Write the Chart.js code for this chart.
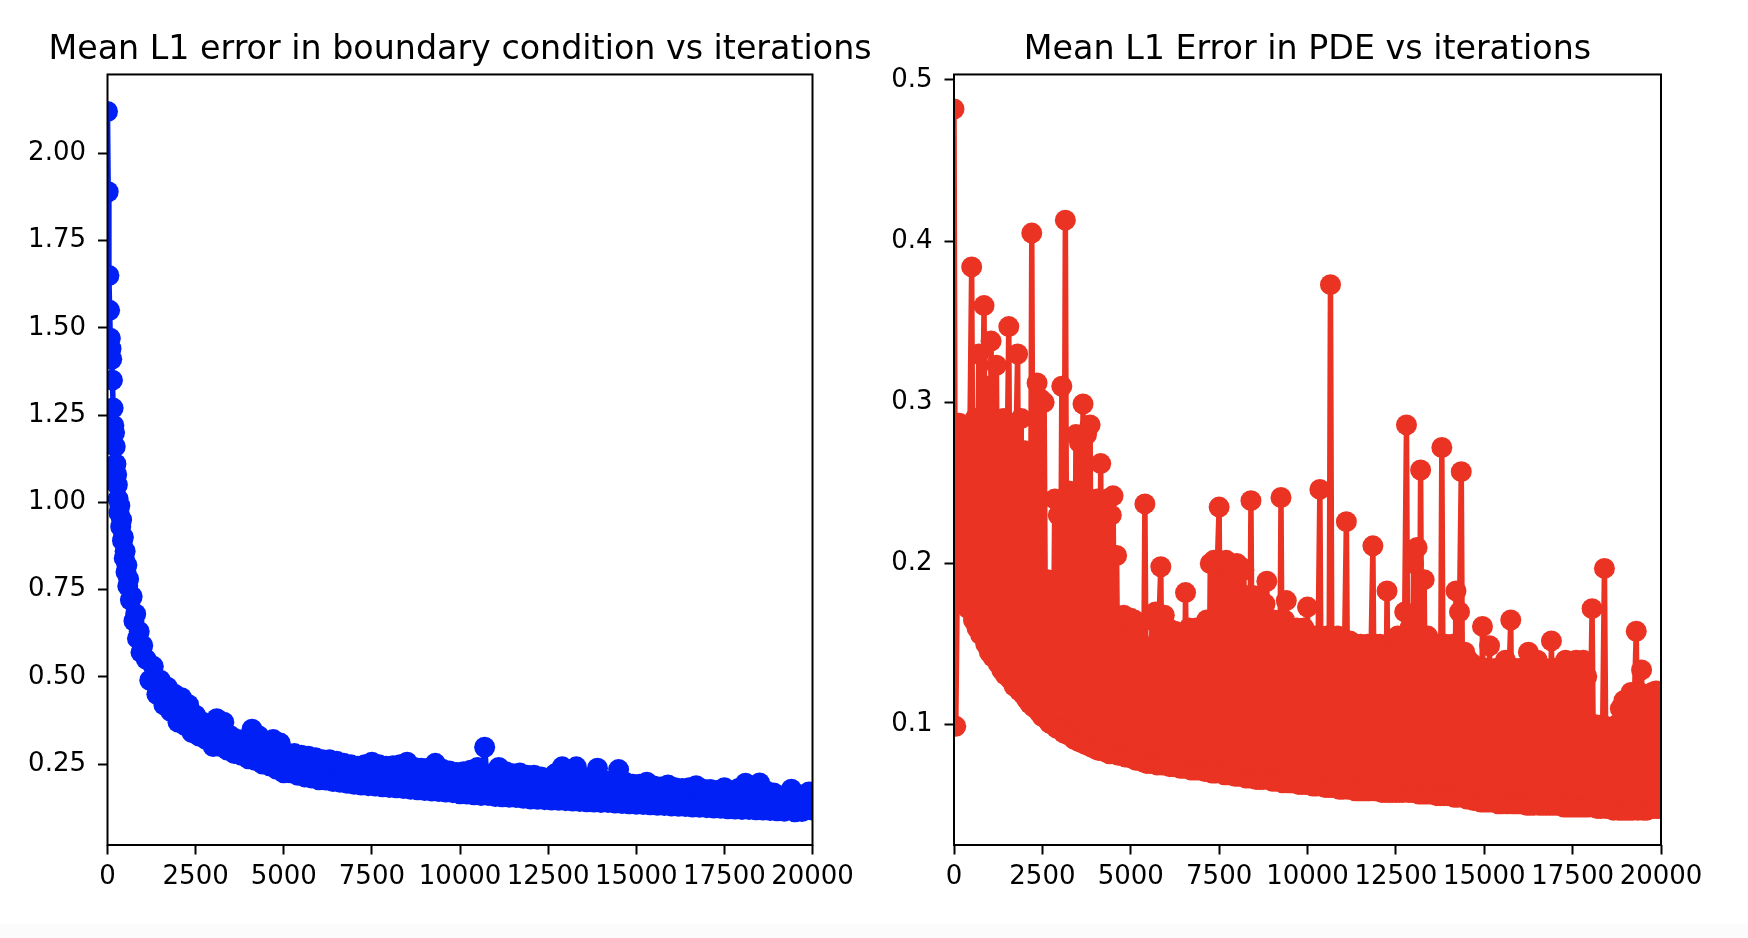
<!DOCTYPE html>
<html>
<head>
<meta charset="utf-8">
<title>Mean L1 error vs iterations</title>
<script src="https://cdn.jsdelivr.net/npm/chart.js@4/dist/chart.umd.min.js"></script>
<style>
  html, body { margin: 0; padding: 0; background: #fff; overflow: hidden; }
  body { width: 1748px; height: 938px; position: relative; }
  canvas { position: absolute; top: 0; }
  #bcChart { left: 23px; }
  #pdeChart { left: 874px; }
  .footer-strip { position: absolute; left: 0; top: 924px; width: 1748px; height: 14px; background: #fbfbfb; }
</style>
</head>
<body>
<div class="footer-strip"></div>
<canvas id="bcChart" width="874" height="938"></canvas>
<canvas id="pdeChart" width="874" height="938"></canvas>
<script>
const FONT_FAMILY = "'DejaVu Sans', sans-serif";
const BLUE = "#0020f5";
const RED = "#ea3323";

const xTicks = [0, 2500, 5000, 7500, 10000, 12500, 15000, 17500, 20000];
const bcTicks = [0.25, 0.5, 0.75, 1.0, 1.25, 1.5, 1.75, 2.0];
const pdeTicks = [0.1, 0.2, 0.3, 0.4, 0.5];

const bcIterations = [
  0, 20, 40, 60, 80, 100, 120, 140, 160, 180, 200, 220, 240, 260, 280, 300,
  325, 350, 375, 400, 425, 450, 475, 500, 525, 550, 575, 600,
  650, 700, 750, 800, 850, 900, 950, 1000,
  1100, 1200, 1300, 1400, 1500, 1600, 1700, 1800, 1900, 2000,
  2100, 2200, 2300, 2400, 2500, 2600, 2700, 2800, 2900, 3000,
  3100, 3200, 3300, 3400, 3500, 3600, 3700, 3800, 3900, 4000,
  4100, 4200, 4300, 4400, 4500, 4600, 4700, 4800, 4900, 5000,
  5100, 5200, 5300, 5400, 5500, 5600, 5700, 5800, 5900, 6000,
  6100, 6200, 6300, 6400, 6500, 6600, 6700, 6800, 6900, 7000,
  7100, 7200, 7300, 7400, 7500, 7600, 7700, 7800, 7900, 8000,
  8100, 8200, 8300, 8400, 8500, 8600, 8700, 8800, 8900, 9000,
  9100, 9200, 9300, 9400, 9500, 9600, 9700, 9800, 9900, 10000,
  10100, 10200, 10300, 10400, 10500, 10600, 10700, 10800, 10900, 11000,
  11100, 11200, 11300, 11400, 11500, 11600, 11700, 11800, 11900, 12000,
  12100, 12200, 12300, 12400, 12500, 12600, 12700, 12800, 12900, 13000,
  13100, 13200, 13300, 13400, 13500, 13600, 13700, 13800, 13900, 14000,
  14100, 14200, 14300, 14400, 14500, 14600, 14700, 14800, 14900, 15000,
  15100, 15200, 15300, 15400, 15500, 15600, 15700, 15800, 15900, 16000,
  16100, 16200, 16300, 16400, 16500, 16600, 16700, 16800, 16900, 17000,
  17100, 17200, 17300, 17400, 17500, 17600, 17700, 17800, 17900, 18000,
  18100, 18200, 18300, 18400, 18500, 18600, 18700, 18800, 18900, 19000,
  19100, 19200, 19300, 19400, 19500, 19600, 19700, 19800, 19900, 20000,
];

const bcError = [
  2.12, 1.89, 1.65, 1.55, 1.47, 1.44, 1.41, 1.35, 1.27, 1.22, 1.20, 1.16, 1.11, 1.08, 1.05, 1.01,
  0.97, 0.99, 0.93, 0.95, 0.89, 0.90, 0.84, 0.86, 0.80, 0.82, 0.76, 0.78,
  0.72, 0.73, 0.66, 0.68, 0.61, 0.63, 0.57, 0.59,
  0.55, 0.49, 0.53, 0.45, 0.49, 0.42, 0.47, 0.40, 0.45, 0.37,
  0.44, 0.36, 0.42, 0.34, 0.39, 0.33, 0.37, 0.32, 0.36, 0.30,
  0.38, 0.30, 0.37, 0.29, 0.33, 0.28, 0.32, 0.275, 0.31, 0.265,
  0.35, 0.26, 0.33, 0.25, 0.30, 0.245, 0.32, 0.235, 0.31, 0.225,
  0.28, 0.225, 0.28, 0.218, 0.275, 0.213, 0.272, 0.21, 0.268, 0.205,
  0.262, 0.204, 0.262, 0.20, 0.258, 0.198, 0.252, 0.195, 0.248, 0.192,
  0.244, 0.19, 0.248, 0.188, 0.255, 0.187, 0.248, 0.185, 0.244, 0.183,
  0.245, 0.182, 0.248, 0.18, 0.255, 0.178, 0.24, 0.176, 0.238, 0.174,
  0.238, 0.173, 0.252, 0.171, 0.235, 0.17, 0.23, 0.168, 0.226, 0.165,
  0.228, 0.164, 0.232, 0.162, 0.24, 0.16, 0.298, 0.16, 0.222, 0.157,
  0.24, 0.156, 0.228, 0.155, 0.222, 0.154, 0.224, 0.152, 0.218, 0.15,
  0.218, 0.149, 0.213, 0.148, 0.21, 0.147, 0.222, 0.146, 0.242, 0.145,
  0.212, 0.144, 0.242, 0.143, 0.212, 0.142, 0.207, 0.141, 0.238, 0.14,
  0.202, 0.14, 0.2, 0.138, 0.234, 0.137, 0.197, 0.136, 0.192, 0.135,
  0.192, 0.134, 0.198, 0.133, 0.187, 0.132, 0.184, 0.131, 0.19, 0.13,
  0.182, 0.129, 0.18, 0.128, 0.182, 0.127, 0.188, 0.126, 0.178, 0.125,
  0.177, 0.124, 0.174, 0.123, 0.182, 0.122, 0.172, 0.121, 0.18, 0.12,
  0.195, 0.12, 0.185, 0.119, 0.196, 0.118, 0.172, 0.117, 0.167, 0.116,
  0.158, 0.115, 0.162, 0.178, 0.113, 0.162, 0.114, 0.16, 0.17, 0.118,
];

// PDE residual was logged every 50 iterations
const PDE_LOG_EVERY = 50;
const pdeError = [
  0.482, 0.099, 0.20, 0.287, 0.185, 0.27, 0.178, 0.26, 0.172, 0.28, 0.384, 0.165, 0.29, 0.160, 0.33, 0.156, 0.27, 0.360, 0.150, 0.31,
  0.145, 0.338, 0.142, 0.28, 0.323, 0.138, 0.27, 0.134, 0.29, 0.131, 0.26, 0.347, 0.128, 0.28, 0.124, 0.27, 0.330, 0.121, 0.29, 0.119,
  0.27, 0.116, 0.25, 0.113, 0.405, 0.111, 0.26, 0.312, 0.108, 0.302, 0.105, 0.30, 0.104, 0.19, 0.101, 0.185, 0.100, 0.24, 0.098, 0.23,
  0.097, 0.31, 0.095, 0.413, 0.094, 0.245, 0.093, 0.24, 0.091, 0.28, 0.090, 0.275, 0.089, 0.299, 0.088, 0.28, 0.087, 0.286, 0.086, 0.235,
  0.085, 0.24, 0.084, 0.262, 0.084, 0.235, 0.083, 0.24, 0.082, 0.23, 0.242, 0.082, 0.205, 0.081, 0.165, 0.081, 0.168, 0.080, 0.165, 0.080,
  0.166, 0.079, 0.165, 0.078, 0.155, 0.078, 0.15, 0.077, 0.237, 0.076, 0.145, 0.076, 0.165, 0.076, 0.17, 0.075, 0.165, 0.198, 0.075, 0.168,
  0.075, 0.16, 0.074, 0.155, 0.074, 0.158, 0.074, 0.155, 0.073, 0.15, 0.073, 0.182, 0.073, 0.16, 0.072, 0.155, 0.072, 0.16, 0.072, 0.155,
  0.072, 0.16, 0.071, 0.165, 0.071, 0.20, 0.070, 0.202, 0.070, 0.20, 0.235, 0.070, 0.20, 0.069, 0.202, 0.069, 0.20, 0.069, 0.198, 0.068,
  0.20, 0.068, 0.198, 0.068, 0.196, 0.067, 0.18, 0.067, 0.239, 0.067, 0.18, 0.066, 0.175, 0.066, 0.17, 0.066, 0.175, 0.189, 0.066, 0.165,
  0.065, 0.165, 0.065, 0.162, 0.065, 0.241, 0.064, 0.165, 0.177, 0.064, 0.16, 0.064, 0.158, 0.064, 0.16, 0.063, 0.155, 0.063, 0.16, 0.063,
  0.173, 0.063, 0.15, 0.062, 0.155, 0.062, 0.15, 0.246, 0.062, 0.15, 0.061, 0.155, 0.061, 0.373, 0.061, 0.15, 0.061, 0.155, 0.060, 0.15,
  0.060, 0.15, 0.226, 0.060, 0.152, 0.060, 0.15, 0.059, 0.148, 0.059, 0.15, 0.059, 0.145, 0.059, 0.15, 0.059, 0.148, 0.211, 0.059, 0.15,
  0.059, 0.15, 0.058, 0.148, 0.058, 0.183, 0.058, 0.15, 0.058, 0.145, 0.058, 0.155, 0.058, 0.15, 0.058, 0.17, 0.286, 0.058, 0.16, 0.058,
  0.20, 0.058, 0.21, 0.057, 0.258, 0.057, 0.19, 0.057, 0.155, 0.057, 0.15, 0.057, 0.148, 0.056, 0.15, 0.056, 0.272, 0.056, 0.15, 0.056,
  0.148, 0.056, 0.15, 0.055, 0.183, 0.055, 0.17, 0.257, 0.055, 0.145, 0.054, 0.14, 0.054, 0.138, 0.053, 0.135, 0.053, 0.132, 0.052, 0.161,
  0.052, 0.135, 0.052, 0.149, 0.052, 0.13, 0.052, 0.135, 0.051, 0.13, 0.051, 0.135, 0.14, 0.051, 0.13, 0.165, 0.051, 0.135, 0.051, 0.13,
  0.051, 0.135, 0.051, 0.13, 0.050, 0.145, 0.050, 0.132, 0.050, 0.135, 0.14, 0.050, 0.13, 0.050, 0.135, 0.050, 0.13, 0.050, 0.152, 0.050,
  0.135, 0.050, 0.13, 0.050, 0.135, 0.049, 0.14, 0.049, 0.135, 0.049, 0.13, 0.049, 0.14, 0.049, 0.135, 0.049, 0.14, 0.049, 0.13, 0.049,
  0.10, 0.172, 0.049, 0.10, 0.048, 0.098, 0.048, 0.10, 0.197, 0.048, 0.095, 0.048, 0.098, 0.047, 0.095, 0.10, 0.047, 0.11, 0.047, 0.115,
  0.047, 0.115, 0.047, 0.12, 0.047, 0.118, 0.158, 0.047, 0.12, 0.134, 0.047, 0.115, 0.047, 0.118, 0.048, 0.12, 0.048, 0.121, 0.048, 0.115,
  0.12,
];
const pdeIterations = pdeError.map((_, i) => i * PDE_LOG_EVERY);

const framePlugin = {
  id: "frame",
  afterDraw: (chart) => {
    const { ctx, chartArea } = chart;
    ctx.save();
    ctx.strokeStyle = "#000";
    ctx.lineWidth = 2;
    ctx.strokeRect(
      chartArea.left,
      chartArea.top,
      chartArea.right - chartArea.left,
      chartArea.bottom - chartArea.top
    );
    ctx.restore();
  },
};

const tickGrid = {
  display: true,
  drawOnChartArea: false,
  drawTicks: true,
  tickLength: 9.5,
  tickWidth: 2,
  tickColor: "#000",
  color: "#000",
};

const buildChart = ({ canvasId, title, iterations, values, color, yMin, yMax, yTicks, yDecimals, yAxisWidth, rightMargin, padding }) => {
  const ctx = document.getElementById(canvasId).getContext("2d");

  return new Chart(ctx, {
    type: "line",
    data: {
      datasets: [
        {
          data: iterations.map((x, i) => ({ x, y: values[i] })),
          borderColor: color,
          backgroundColor: color,
          borderWidth: 5.5,
          borderJoinStyle: "round",
          borderCapStyle: "round",
          pointRadius: 10.5,
          pointHoverRadius: 10.5,
          pointBorderWidth: 0,
          pointBackgroundColor: color,
          tension: 0,
          clip: 0,
        },
      ],
    },
    options: {
      responsive: false,
      animation: false,
      events: [],
      layout: { padding },
      plugins: {
        legend: { display: false },
        tooltip: { enabled: false },
        title: {
          display: true,
          text: title,
          color: "#000",
          font: { family: FONT_FAMILY, size: 33.3, weight: "normal", lineHeight: 1.2 },
          padding: { top: 30, bottom: 4.5 },
        },
      },
      scales: {
        x: {
          type: "linear",
          min: 0,
          max: 20000,
          afterBuildTicks: (scale) => {
            scale.ticks = xTicks.map((value) => ({ value }));
          },
          afterFit: (scale) => {
            scale.height = 93;
            scale.paddingRight = rightMargin;
          },
          grid: tickGrid,
          border: { display: false },
          ticks: {
            color: "#000",
            font: { family: FONT_FAMILY, size: 26 },
            padding: 7,
            autoSkip: false,
            maxRotation: 0,
            minRotation: 0,
            callback: (value) => String(value),
          },
        },
        y: {
          type: "linear",
          min: yMin,
          max: yMax,
          afterBuildTicks: (scale) => {
            scale.ticks = yTicks.map((value) => ({ value }));
          },
          afterFit: (scale) => {
            scale.width = yAxisWidth;
          },
          grid: tickGrid,
          border: { display: false },
          ticks: {
            color: "#000",
            font: { family: FONT_FAMILY, size: 26 },
            padding: 12,
            autoSkip: false,
            callback: (value) => Number(value).toFixed(yDecimals),
          },
        },
      },
    },
    plugins: [framePlugin],
  });
};

buildChart({
  canvasId: "bcChart",
  title: "Mean L1 error in boundary condition vs iterations",
  iterations: bcIterations,
  values: bcError,
  color: BLUE,
  yMin: 0.018,
  yMax: 2.226,
  yTicks: bcTicks,
  yDecimals: 2,
  yAxisWidth: 84.5,
  rightMargin: 84.5,
  padding: { left: 0, right: 0, top: 0, bottom: 0 },
});

buildChart({
  canvasId: "pdeChart",
  title: "Mean L1 Error in PDE vs iterations",
  iterations: pdeIterations,
  values: pdeError,
  color: RED,
  yMin: 0.0254,
  yMax: 0.5034,
  yTicks: pdeTicks,
  yDecimals: 1,
  yAxisWidth: 80,
  rightMargin: 87,
  padding: { left: 0, right: 7, top: 0, bottom: 0 },
});
</script>
</body>
</html>
